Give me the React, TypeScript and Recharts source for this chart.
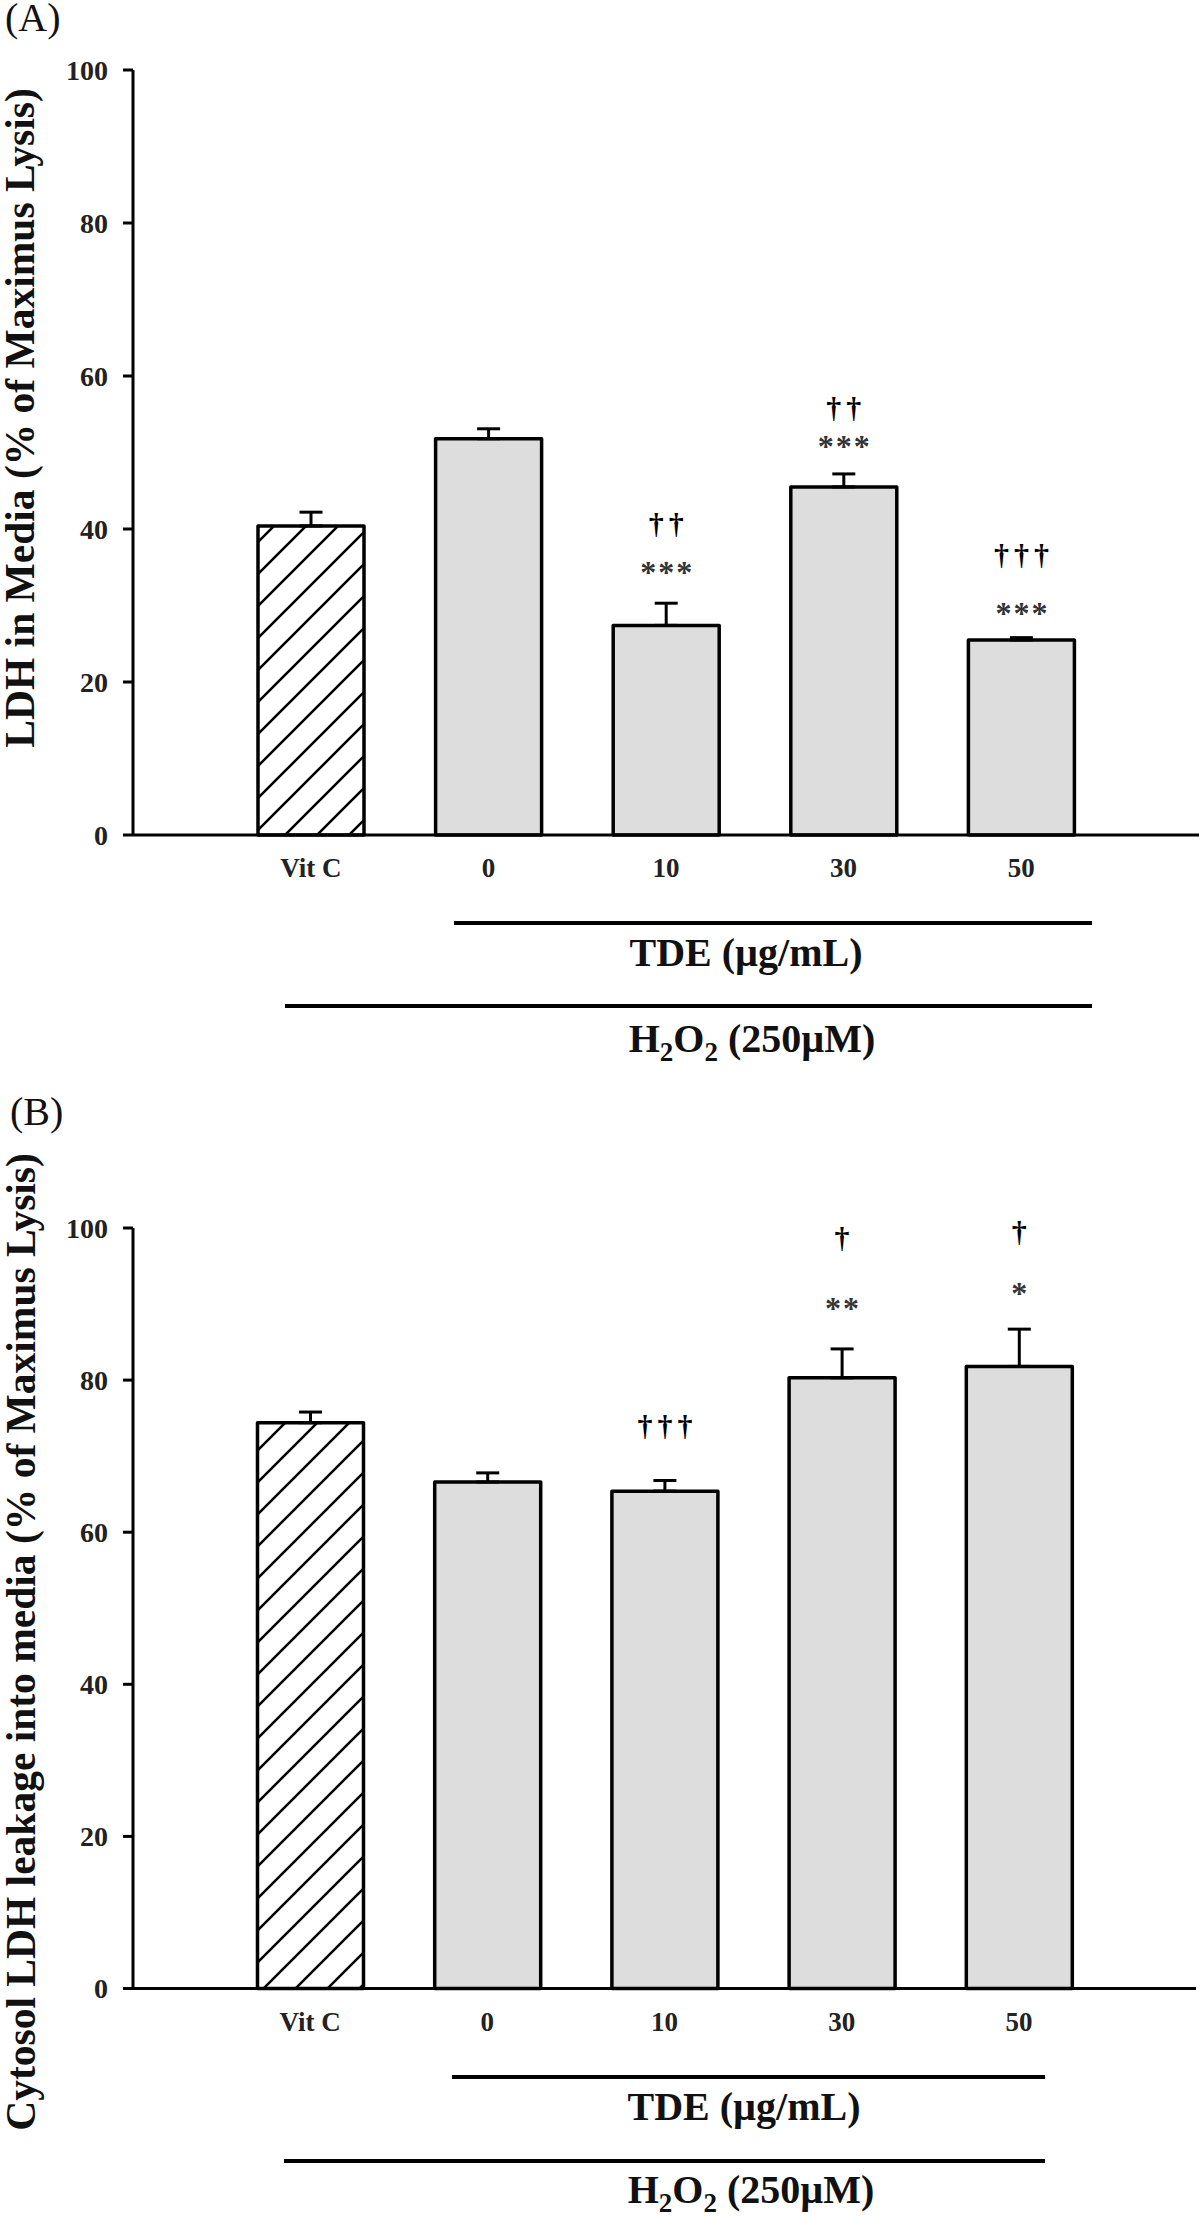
import React from 'react';
import { BarChart, Bar, XAxis, YAxis, ErrorBar, LabelList, Cell } from 'recharts';

// ---------- data ----------
const categories = ['Vit C', '0', '10', '30', '50'];
const yTicks = [0, 20, 40, 60, 80, 100];

const ldhMediaValues = [40.4, 51.8, 27.4, 45.5, 25.5];
const ldhMediaErrors = [1.8, 1.3, 2.9, 1.7, 0.3];
const ldhMediaStars = ['', '', '***', '***', '***'];
const ldhMediaStarLevels = [0, 0, 34.9, 51.4, 29.5];
const ldhMediaDaggers = ['', '', '††', '††', '†††'];
const ldhMediaDaggerLevels = [0, 0, 40.4, 55.6, 36.3];

const cytosolValues = [74.4, 66.6, 65.4, 80.3, 81.8];
const cytosolErrors = [1.4, 1.2, 1.4, 3.8, 4.9];
const cytosolStars = ['', '', '', '**', '*'];
const cytosolStarLevels = [0, 0, 0, 90.0, 92.0];
const cytosolDaggers = ['', '', '†††', '†', '†'];
const cytosolDaggerLevels = [0, 0, 73.7, 98.4, 99.2];

const panelLabels = ['(A)', '(B)'];
const yTitles = ['LDH in Media (% of Maximus Lysis)', 'Cytosol LDH leakage into media (% of Maximus Lysis)'];
const tdeLabel = 'TDE (µg/mL)';

// ---------- styling ----------
const SERIF = '"Liberation Serif", "Times New Roman", serif';
const BAR_FILL = '#dddddd';

type Row = {
  cat: string;
  value: number;
  err: [number, number];
  stars: string;
  starLevel: number;
  daggers: string;
  daggerLevel: number;
};

function buildRows(values: number[], errors: number[], stars: string[], starLevels: number[], daggers: string[], daggerLevels: number[]): Row[] {
  return categories.map((c, i) => ({
    cat: c,
    value: values[i],
    err: [0, errors[i]] as [number, number],
    stars: stars[i],
    starLevel: starLevels[i],
    daggers: daggers[i],
    daggerLevel: daggerLevels[i],
  }));
}

const rowsA = buildRows(ldhMediaValues, ldhMediaErrors, ldhMediaStars, ldhMediaStarLevels, ldhMediaDaggers, ldhMediaDaggerLevels);
const rowsB = buildRows(cytosolValues, cytosolErrors, cytosolStars, cytosolStarLevels, cytosolDaggers, cytosolDaggerLevels);

function makeAnnot(rows: Row[]) {
  return (props: any) => {
    const vb = props.viewBox && props.viewBox.width !== undefined ? props.viewBox : props;
    const x = Number(vb.x);
    const y = Number(vb.y);
    const width = Number(vb.width);
    const height = Number(vb.height);
    const i = props.index;
    const d = rows[i];
    if (!d || !d.value || !isFinite(x) || !isFinite(height) || height === 0) return null;
    const ppu = height / d.value;
    const base = y + height;
    const cx = x + width / 2;
    const out: any[] = [];
    if (d.stars) {
      const cy = base - d.starLevel * ppu;
      out.push(
        <text key="s" x={cx + 1} y={cy + 15} textAnchor="middle" fontFamily={SERIF} fontWeight="bold" fontSize={32} letterSpacing={2} fill="#333">
          {d.stars}
        </text>
      );
    }
    if (d.daggers) {
      const cy = base - d.daggerLevel * ppu;
      out.push(
        <text key="d" x={cx + 2.5} y={cy + 8} textAnchor="middle" fontFamily={SERIF} fontWeight="bold" fontSize={30} letterSpacing={5} fill="#000">
          {d.daggers}
        </text>
      );
    }
    return <g>{out}</g>;
  };
}

const YTick = (props: any) => {
  const { x, y, payload } = props;
  return (
    <text x={x} y={y} dy={9.5} textAnchor="end" fontFamily={SERIF} fontWeight="bold" fontSize={28} fill="#222">
      {payload.value}
    </text>
  );
};

const XTick = (props: any) => {
  const { x, y, payload } = props;
  if (!payload.value) return null;
  return (
    <text x={x} y={y + 42} textAnchor="middle" fontFamily={SERIF} fontWeight="bold" fontSize={27} fill="#222">
      {payload.value}
    </text>
  );
};

function Panel(props: { rows: Row[]; height: number; top: number; bottom: number; right: number; pad: number; id: string }) {
  const { rows, height, top, bottom, right, pad, id } = props;
  return (
    <BarChart
      width={1200}
      height={height}
      data={rows}
      margin={{ top, right, bottom, left: 0 }}
      barSize={106}
    >
      <defs>
        <pattern id={id} patternUnits="userSpaceOnUse" width={32} height={32}>
          <rect x={0} y={0} width={32} height={32} fill="#ffffff" />
          <path d="M-8,8 L8,-8 M0,32 L32,0 M24,40 L40,24" stroke="#000" strokeWidth={2.6} />
        </pattern>
      </defs>
      <XAxis
        dataKey="cat"
        type="category"
        height={50}
        padding={{ left: pad, right: pad }}
        axisLine={{ stroke: '#000', strokeWidth: 3 }}
        tickLine={false}
        tickSize={0}
        tickMargin={0}
        tick={<XTick />}
        interval={0}
      />
      <YAxis
        type="number"
        domain={[0, 100]}
        ticks={yTicks}
        width={133}
        axisLine={{ stroke: '#000', strokeWidth: 3 }}
        tickLine={{ stroke: '#000', strokeWidth: 3 }}
        tickSize={10}
        tickMargin={15}
        tick={<YTick />}
        interval={0}
      />
      <Bar dataKey="value" stroke="#000" strokeWidth={3.5} strokeLinejoin="round" isAnimationActive={false}>
        {rows.map((r, i) => (
          <Cell key={'c' + i} fill={i === 0 ? `url(#${id})` : BAR_FILL} />
        ))}
        <ErrorBar dataKey="err" width={11.5} stroke="#000" strokeWidth={3} direction="y" isAnimationActive={false} />
        <LabelList dataKey="value" content={makeAnnot(rows)} />
      </Bar>
    </BarChart>
  );
}

function H2O2Label(props: { x: number; y: number }) {
  return (
    <text x={props.x} y={props.y} textAnchor="middle" fontFamily={SERIF} fontWeight="bold" fontSize={40} fill="#111">
      H
      <tspan fontSize={27} dy={9}>2</tspan>
      <tspan dy={-9}>O</tspan>
      <tspan fontSize={27} dy={9}>2</tspan>
      <tspan dy={-9}> (250µM)</tspan>
    </text>
  );
}

export default function App() {
  return (
    <div style={{ position: 'absolute', left: 0, top: 0, width: 1200, height: 2217, background: '#fff', overflow: 'hidden' }}>
      <div style={{ position: 'absolute', left: 0, top: 0 }}>
        <Panel rows={rowsA} height={1100} top={70} bottom={215} right={1} pad={89} id="hatchA" />
      </div>
      <div style={{ position: 'absolute', left: 0, top: 1100 }}>
        <Panel rows={rowsB} height={1117} top={128} bottom={178.5} right={4} pad={88.5} id="hatchB" />
      </div>
      <svg width={1200} height={2217} style={{ position: 'absolute', left: 0, top: 0, pointerEvents: 'none' }}>
        {/* Panel A */}
        <text x={5} y={31} fontFamily={SERIF} fontSize={40} fill="#111">{panelLabels[0]}</text>
        <text transform="translate(34,418) rotate(-90)" textAnchor="middle" fontFamily={SERIF} fontWeight="bold" fontSize={41.5} fill="#111">
          {yTitles[0]}
        </text>
        <line x1={454} x2={1092} y1={923} y2={923} stroke="#000" strokeWidth={4} />
        <text x={746} y={966} textAnchor="middle" fontFamily={SERIF} fontWeight="bold" fontSize={40} fill="#111">{tdeLabel}</text>
        <line x1={285} x2={1092} y1={1006} y2={1006} stroke="#000" strokeWidth={4} />
        <H2O2Label x={752} y={1052} />

        {/* Panel B */}
        <text x={10} y={1125} fontFamily={SERIF} fontSize={40} fill="#111">{panelLabels[1]}</text>
        <text transform="translate(35,1642) rotate(-90)" textAnchor="middle" fontFamily={SERIF} fontWeight="bold" fontSize={41.5} fill="#111">
          {yTitles[1]}
        </text>
        <line x1={452} x2={1045} y1={2077} y2={2077} stroke="#000" strokeWidth={4} />
        <text x={744} y={2120} textAnchor="middle" fontFamily={SERIF} fontWeight="bold" fontSize={40} fill="#111">{tdeLabel}</text>
        <line x1={284} x2={1045} y1={2161} y2={2161} stroke="#000" strokeWidth={4} />
        <H2O2Label x={751} y={2203} />
      </svg>
    </div>
  );
}
